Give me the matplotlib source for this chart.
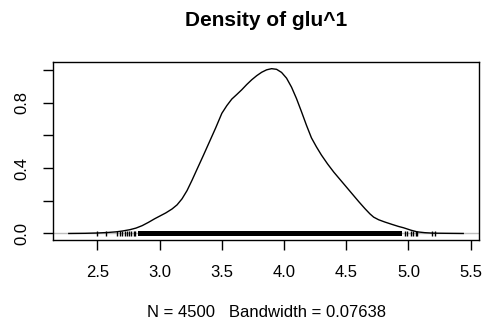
import matplotlib
matplotlib.use("Agg")
import matplotlib.pyplot as plt

plt.rcParams['font.family'] = ['Liberation Sans', 'DejaVu Sans']

# density curve
dens_x = [2.27, 2.40, 2.50, 2.58, 2.65, 2.70, 2.76, 2.81, 2.86, 2.91, 2.96, 3.00,
          3.05, 3.10, 3.14, 3.18, 3.22, 3.26, 3.30, 3.35, 3.40, 3.45, 3.50, 3.54,
          3.58, 3.62, 3.66, 3.70, 3.74, 3.78, 3.82, 3.86, 3.90, 3.94, 3.98, 4.02,
          4.06, 4.10, 4.14, 4.18, 4.22, 4.26, 4.30, 4.35, 4.40, 4.45, 4.50, 4.55,
          4.60, 4.65, 4.69, 4.72, 4.76, 4.81, 4.87, 4.92, 4.96, 5.02, 5.07, 5.13,
          5.20, 5.30, 5.44]
dens_y = [0.000, 0.001, 0.003, 0.006, 0.010, 0.015, 0.023, 0.033, 0.048, 0.068,
          0.090, 0.106, 0.126, 0.150, 0.175, 0.212, 0.262, 0.325, 0.392, 0.475,
          0.560, 0.645, 0.735, 0.782, 0.822, 0.850, 0.879, 0.911, 0.940, 0.965,
          0.986, 1.001, 1.008, 1.004, 0.985, 0.950, 0.895, 0.825, 0.745, 0.662,
          0.585, 0.530, 0.480, 0.425, 0.375, 0.330, 0.285, 0.240, 0.195, 0.152,
          0.120, 0.100, 0.084, 0.070, 0.055, 0.043, 0.035, 0.020, 0.010, 0.005,
          0.002, 0.001, 0.000]

# single observations visible in the rug, plus the solid stretch
rug_single = [2.50, 2.565, 2.66, 2.68, 2.70, 2.72, 2.74, 2.75, 2.77, 2.79, 2.80,
              4.97, 4.99, 5.02, 5.04, 5.06, 5.07, 5.19, 5.21]
rug_band = (2.83, 4.95)

n_obs = 4500
bw = 0.07638

fig = plt.figure(figsize=(4.89, 3.27), dpi=100)
ax = fig.add_axes([0.1084, 0.266, 0.8712, 0.544])

ax.axhline(0, color='#bebebe', lw=1.0, zorder=1)
ax.plot(dens_x, dens_y, color='black', lw=1.0, zorder=3)
ax.vlines(rug_single, -0.014, 0.014, color='black', lw=1.0, zorder=2)
ax.fill_between(rug_band, -0.014, 0.014, color='black', lw=0, zorder=2)

ax.set_xlim(2.143, 5.567)
ax.set_ylim(-0.040, 1.048)
ax.set_xticks([2.5, 3.0, 3.5, 4.0, 4.5, 5.0, 5.5])
ax.set_xticklabels(['2.5', '3.0', '3.5', '4.0', '4.5', '5.0', '5.5'])
ax.set_yticks([0.0, 0.2, 0.4, 0.6, 0.8, 1.0])
ax.set_yticklabels(['0.0', '', '0.4', '', '0.8', ''], rotation=90, va='center')
ax.tick_params(axis='both', length=7, width=1.0, labelsize=12, direction='out')
ax.tick_params(axis='x', pad=11)
ax.tick_params(axis='y', pad=10)
for s in ax.spines.values():
    s.set_linewidth(1.0)

fig.text(0.544, 0.937, 'Density of glu^1', ha='center', va='center',
         fontsize=15, fontweight='bold')
fig.text(0.544, 0.044, 'N = %d   Bandwidth = %.5f' % (n_obs, bw), ha='center',
         va='center', fontsize=12)

fig.savefig('out.png', dpi=100)
